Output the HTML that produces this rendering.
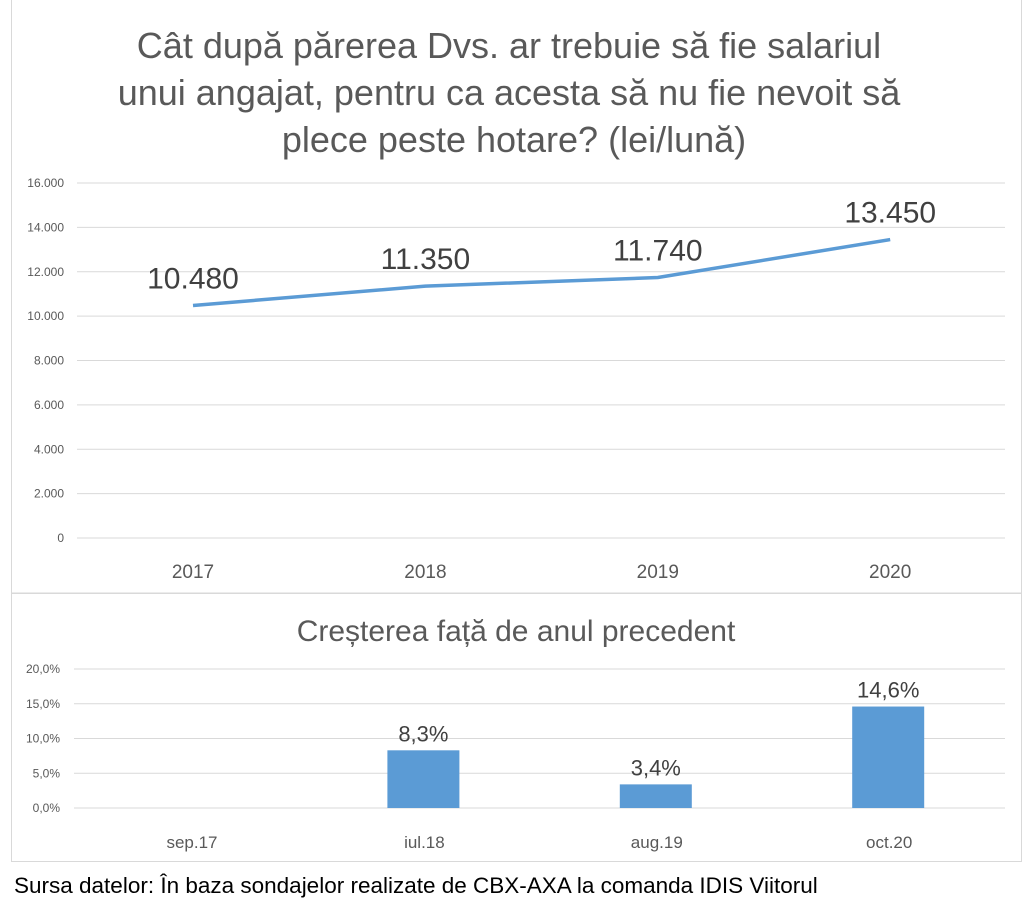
<!DOCTYPE html>
<html><head><meta charset="utf-8"><style>
body{margin:0;background:#fff;width:1024px;height:907px;overflow:hidden;font-family:"Liberation Sans",sans-serif}
</style></head><body>
<svg width="1024" height="907" style="position:absolute;left:0;top:0">
<rect x="11.5" y="-1" width="1010" height="594" fill="#fff" stroke="#d9d9d9"/>
<rect x="11.5" y="593.5" width="1010" height="268" fill="#fff" stroke="#d9d9d9"/>
<text text-anchor="middle" font-size="36" fill="#595959">
<tspan x="514" y="58">Cât după părerea Dvs. ar trebuie să fie salariul</tspan>
<tspan x="514" y="105">unui angajat, pentru ca acesta să nu fie nevoit să</tspan>
<tspan x="514" y="152">plece peste hotare? (lei/lună)</tspan></text>
<g id="topg"></g>
<text x="516" y="641" text-anchor="middle" font-size="30" fill="#595959">Creșterea față de anul precedent</text>
<g id="botg"></g>
<text x="14" y="893" font-size="22.5" fill="#000">Sursa datelor: În baza sondajelor realizate de CBX-AXA la comanda IDIS Viitorul</text>
</svg>
<script>
const years=["2017","2018","2019","2020"];
const salary=[10480,11350,11740,13450];
const salaryLabels=["10.480","11.350","11.740","13.450"];
const yTicks=[0,2000,4000,6000,8000,10000,12000,14000,16000];
const yTickLabels=["0","2.000","4.000","6.000","8.000","10.000","12.000","14.000","16.000"];
const months=["sep.17","iul.18","aug.19","oct.20"];
const growth=[null,8.3,3.4,14.6];
const growthLabels=["","8,3%","3,4%","14,6%"];
const gTicks=[0,5,10,15,20];
const gTickLabels=["0,0%","5,0%","10,0%","15,0%","20,0%"];
const NS="http://www.w3.org/2000/svg";
function mk(p,t,a,txt){const e=document.createElementNS(NS,t);for(const k in a)e.setAttribute(k,a[k]);if(txt!=null)e.textContent=txt;p.appendChild(e);return e;}
const xC=i=>193+i*232.4;
const yT=v=>538-v*(355/16000);
const yB=v=>808-v*(139/20);
const topG=document.getElementById('topg');
yTicks.forEach((v,i)=>{
 let l=mk(topG,'line',{x1:77,x2:1005,y1:yT(v),y2:yT(v),stroke:'#d9d9d9','stroke-width':1});
 
 
 let t=mk(topG,'text',{x:64,y:yT(v)+4,'text-anchor':'end','font-size':12,fill:'#595959'},yTickLabels[i]);
 
 
});
years.forEach((y,i)=>{
 let t=mk(topG,'text',{x:xC(i),y:578,'text-anchor':'middle','font-size':19,fill:'#595959'},y);
 
 
});
let pl=mk(topG,'polyline',{points:salary.map((v,i)=>xC(i)+','+yT(v)).join(' '),fill:'none',stroke:'#5b9bd5','stroke-width':3.5,'stroke-linejoin':'round'});


salary.forEach((v,i)=>{
 let t=mk(topG,'text',{x:xC(i),y:yT(v)-17,'text-anchor':'middle','font-size':30,fill:'#404040'},salaryLabels[i]);
 
 
});
const botG=document.getElementById('botg');
gTicks.forEach((v,i)=>{
 let l=mk(botG,'line',{x1:74,x2:1005,y1:yB(v),y2:yB(v),stroke:'#d9d9d9','stroke-width':1});
 
 
 let t=mk(botG,'text',{x:60,y:yB(v)+4,'text-anchor':'end','font-size':12,fill:'#595959'},gTickLabels[i]);
 
 
});
months.forEach((m,i)=>{
 let t=mk(botG,'text',{x:xC(i)-1,y:848,'text-anchor':'middle','font-size':17,fill:'#595959'},m);
 
 
 if(growth[i]==null)return;
 let r=mk(botG,'rect',{x:xC(i)-38,y:yB(growth[i]),width:72,height:yB(0)-yB(growth[i]),fill:'#5b9bd5'});
 
 
 let l=mk(botG,'text',{x:xC(i)-2,y:yB(growth[i])-9,'text-anchor':'middle','font-size':22,fill:'#404040'},growthLabels[i]);
 
 
});
</script>
</body></html>
